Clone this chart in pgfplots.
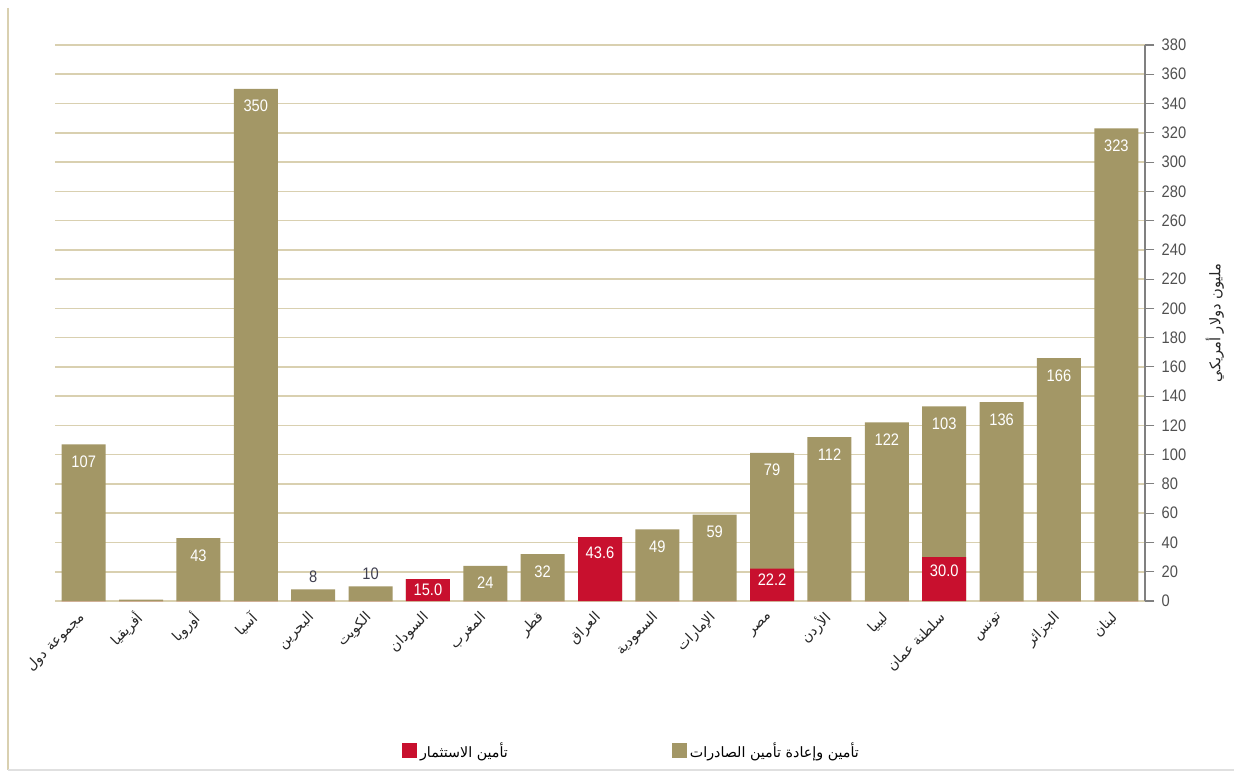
\documentclass[border=0pt]{standalone}
\usepackage{fontspec}
\setmainfont{Liberation Sans}
\newfontfamily\arabicfont[Script=Arabic]{DejaVu Sans}
\newfontfamily\numfont[FakeStretch=0.88]{Liberation Sans}
\usepackage{pgfplots}
\usepackage{pgfplotstable}
\pgfplotsset{compat=1.18}
\TeXXeTstate=1
\newcommand\ar[1]{{\arabicfont\beginR #1\endR}}
\definecolor{barolive}{HTML}{A39766}
\definecolor{barred}{HTML}{C8102E}
\definecolor{gridtan}{HTML}{D9D0B0}
\definecolor{axisgray}{HTML}{808080}
\definecolor{labgray}{HTML}{505050}
\definecolor{toplabel}{HTML}{404050}

% inv = investment insurance, exp = export insurance, tot = bar total
\pgfplotstableread{
x inv exp tot invlab explab toplab ish
0 0 107 107 {} 107 {} 0
1 0 1 1 {} {} {} 0
2 0 43 43 {} 43 {} 0
3 0 350 350 {} 350 {} 0
4 0 8 8 {} {} 8 0
5 0 10 10 {} {} 10 0
6 15 0 15 15.0 {} {} 0
7 0 24 24 {} 24 {} 0
8 0 32 32 {} 32 {} 0
9 43.6 0 43.6 43.6 {} {} -3.8
10 0 49 49 {} 49 {} 0
11 0 59 59 {} 59 {} 0
12 22.2 79 101.2 22.2 79 {} -0.5
13 0 112 112 {} 112 {} 0
14 0 122 122 {} 122 {} 0
15 30 103 133 30.0 103 {} -2.3
16 0 136 136 {} 136 {} 0
17 0 166 166 {} 166 {} 0
18 0 323 323 {} 323 {} 0
}\datatable

\begin{document}
\begin{tikzpicture}
\path[use as bounding box] (0,0) rectangle (925.5pt,579pt);
\draw[gridtan, line width=1.2pt] (6pt,573pt) -- (6pt,1.5pt);
\draw[black!12, line width=0.8pt] (6pt,1.5pt) -- (925.5pt,1.5pt);
\begin{axis}[
  at={(41.25pt,128.25pt)}, anchor=south west,
  scale only axis, width=817.5pt, height=417pt,
  ybar, bar width=33pt,
  xmin=-0.5, xmax=18.5, ymin=0, ymax=380,
  ytick={0,20,...,380},
  xtick={0,...,18},
  xticklabels={\ar{مجموعة دول},\ar{أفريقيا},\ar{أوروبا},\ar{آسيا},\ar{البحرين},\ar{الكويت},\ar{السودان},\ar{المغرب},\ar{قطر},\ar{العراق},\ar{السعودية},\ar{الإمارات},\ar{مصر},\ar{الأردن},\ar{ليبيا},\ar{سلطنة عمان},\ar{تونس},\ar{الجزائر},\ar{لبنان}},
  axis x line*=bottom, axis y line*=right,
  axis line style={-},
  x axis line style={draw=gridtan, line width=1.2pt},
  y axis line style={draw=axisgray, line width=0.8pt},
  ymajorgrids, grid style={gridtan, line width=1.2pt},
  tick align=outside,
  major tick length=7pt,
  xtick style={draw=none},
  ytick style={draw=axisgray, line width=0.8pt},
  /pgf/number format/assume math mode=true,
  yticklabel style={font=\fontsize{12.5}{14}\numfont, text=labgray, xshift=2pt},
  xticklabel style={rotate=45, anchor=east, font=\fontsize{10.5}{12}\selectfont, text=black!85, yshift=-2pt},
  every axis y label/.style={at={(axis description cs:1.064,0.5)}, rotate=90, anchor=center, font=\fontsize{11}{12}\selectfont, text=black!85},
  ylabel={\ar{مليون دولار أمريكي}},
  legend style={at={(0.3145,-0.27)}, anchor=west, draw=none, fill=none, legend columns=2,
    font=\fontsize{10.7}{12}\selectfont,
    /tikz/every even column/.append style={column sep=121pt}},
  legend image code/.code={\fill[#1] (0pt,-5.5pt) rectangle (11.5pt,6pt);},
]
\addplot[fill=barolive, draw=none, bar shift=0pt, forget plot, point meta=explicit symbolic,
  nodes near coords,
  nodes near coords style={anchor=north, text=white, font=\fontsize{12.5}{14}\numfont, yshift=-5pt}]
  table[x=x, y=tot, meta=explab]{\datatable};
\addplot[fill=barred, draw=none, bar shift=0pt, point meta=explicit symbolic,
  visualization depends on={\thisrow{ish}\as\ishift},
  nodes near coords,
  nodes near coords style={anchor=north, text=white, font=\fontsize{12.5}{14}\numfont, yshift=\ishift}]
  table[x=x, y=inv, meta=invlab]{\datatable};
\addlegendentry{\ar{تأمين الاستثمار}}
\addlegendimage{fill=barolive, draw=none}
\addlegendentry{\ar{تأمين وإعادة تأمين الصادرات}}
\addplot[draw=none, fill=none, bar shift=0pt, forget plot, point meta=explicit symbolic,
  nodes near coords,
  nodes near coords style={anchor=south, text=toplabel, font=\fontsize{12.5}{14}\numfont, yshift=1.5pt}]
  table[x=x, y=tot, meta=toplab]{\datatable};
\end{axis}
\end{tikzpicture}
\end{document}
